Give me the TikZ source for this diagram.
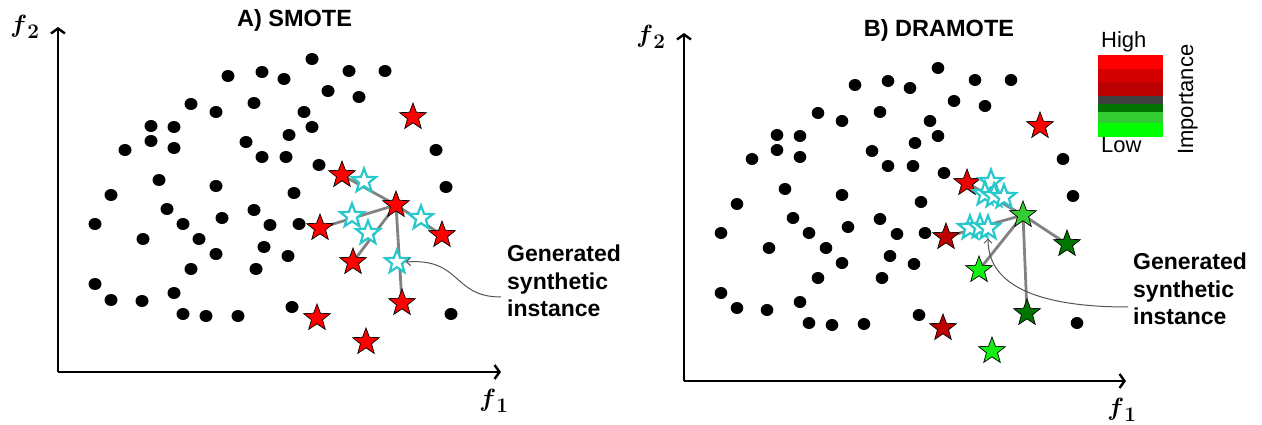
\documentclass[tikz,border=0pt]{standalone}
\usepackage{amsmath}
\usepackage[no-math]{fontspec}
\setmainfont{Liberation Sans}
\usetikzlibrary{shapes.geometric,arrows.meta}
\pgfdeclarelayer{bg}
\pgfsetlayers{bg,main}
\definecolor{sred}{RGB}{255,0,0}
\definecolor{sredb}{RGB}{236,0,0}
\definecolor{sdred}{RGB}{190,0,0}
\definecolor{smgreen}{RGB}{51,204,51}
\definecolor{sdgreen}{RGB}{0,118,0}
\definecolor{sbgreen}{RGB}{20,240,20}
\definecolor{scyan}{RGB}{40,200,205}
\definecolor{linkgray}{RGB}{130,130,130}
\definecolor{annotgray}{RGB}{85,85,85}
\definecolor{band1}{RGB}{255,0,0}
\definecolor{band2}{RGB}{212,0,0}
\definecolor{band3}{RGB}{186,0,0}
\definecolor{band4}{RGB}{64,64,64}
\definecolor{band5}{RGB}{0,115,0}
\definecolor{band6}{RGB}{51,204,51}
\definecolor{band7}{RGB}{0,255,0}
\begin{document}
\begin{tikzpicture}[x=1pt,y=-1pt,
  pstar/.style={shape=star, star points=5, star point ratio=2.4, minimum size=28pt, inner sep=0pt, draw=black, line width=0.7pt},
  redS/.style={pstar, fill=sred},
  redbS/.style={pstar, fill=sredb},
  dredS/.style={pstar, fill=sdred},
  mgreenS/.style={pstar, fill=smgreen},
  dgreenS/.style={pstar, fill=sdgreen},
  bgreenS/.style={pstar, fill=sbgreen},
  cyanS/.style={pstar, draw=scyan, fill=white, line width=2.2pt, minimum size=25pt},
  link/.style={draw=linkgray, line width=2.8pt},
  annot/.style={draw=annotgray, line width=1pt, -{Straight Barb[length=4pt,width=8pt]}},
  axis/.style={draw=black, line width=2.6pt, -{Straight Barb[length=5pt,width=14pt,line width=2.4pt]}},
  title/.style={font=\fontsize{23.5}{28}\selectfont\bfseries, inner sep=0pt, anchor=base},
  note/.style={font=\fontsize{23}{27.5}\selectfont\bfseries, inner sep=0pt, align=left, anchor=west},
  flabel/.style={font=\fontsize{31}{34}\selectfont, inner sep=0pt},
  legtext/.style={font=\fontsize{22}{26}\selectfont, inner sep=0pt}
]
\useasboundingbox (0,0) rectangle (1262,425);

% ---------------- Panel A ----------------
\coordinate (ao) at (58,372);
\coordinate (ay) at (58,27);
\coordinate (ax) at (501,372);
\draw[axis] (ao) -- (ay);
\draw[axis] (ao) -- (ax);
\node[flabel] (af2) at (25,27) {$\boldsymbol{f}_{\mathbf{2}}$};
\node[flabel] (af1) at (494,401) {$\boldsymbol{f}_{\mathbf{1}}$};
\node[title] (atitle) at (294.5,27) {A) SMOTE};

\foreach \x/\y in {312/59,228/76,262/72,284/79,349/71,385/71,328/91,359/97,
  191/104,216/112,254/103,304/112,312/127,289/135,151/126,174/127,151/141,
  174/148,125/150,246/142,262/157,286/157,319/165,436/150,159/180,216/186,
  294/193,446/187,111/195,167/209,254/210,95/224,183/224,222/218,270/225,
  299/224,143/239,199/239,264/247,216/254,288/256,191/269,256/269,95/284,
  174/293,111/300,142/301,183/314,206/316,238/316,292/307,451/314}
  \fill (\x,\y) ellipse [x radius=6.5pt, y radius=6pt];

\node[redS] (lr0) at (396,205) {};
\node[redS] (lr1) at (342,175) {};
\node[redS] (lr2) at (320,228) {};
\node[redS] (lr3) at (353,262) {};
\node[redS] (lr4) at (442,235) {};
\node[redS] (lr5) at (402,303) {};
\node[redS] (lr6) at (413,117) {};
\node[redS] (lr7) at (317,318) {};
\node[redS] (lr8) at (366,342) {};

\begin{pgfonlayer}{bg}
  \foreach \t in {lr1,lr2,lr3,lr4,lr5}
    \draw[link] (lr0.center) -- (\t.center);
\end{pgfonlayer}

\node[cyanS] (lc1) at (364,181) {};
\node[cyanS] (lc2) at (352,216) {};
\node[cyanS] (lc3) at (368,233) {};
\node[cyanS] (lc4) at (421,218) {};
\node[cyanS] (lc5) at (397,262) {};

\node[note] (ltxt) at (507,281) {Generated\\synthetic\\instance};
\draw[annot] ([xshift=-6pt,yshift=-16pt]ltxt.west) .. controls (452,297) and (462,258) .. (lc5.east);

% ---------------- Panel B ----------------
\coordinate (bo) at (684,381);
\coordinate (by) at (684,33);
\coordinate (bx) at (1126,381);
\draw[axis] (bo) -- (by);
\draw[axis] (bo) -- (bx);
\node[flabel] (bf2) at (651,37) {$\boldsymbol{f}_{\mathbf{2}}$};
\node[flabel] (bf1) at (1122,410) {$\boldsymbol{f}_{\mathbf{1}}$};
\node[title] (btitle) at (939,37) {B) DRAMOTE};

\foreach \x/\y in {938/68,855/85,888/81,910/88,975/80,1011/80,954/101,985/106,
  818/113,842/121,880/112,930/121,938/136,915/143,777/135,800/136,777/150,
  800/157,752/159,872/151,888/166,913/166,944/173,1063/159,785/189,842/195,
  921/202,1073/196,737/204,793/218,880/219,721/233,809/233,848/227,897/234,
  925/233,769/248,826/248,890/256,842/263,914/264,818/278,882/278,721/293,
  800/302,737/308,767/310,809/323,832/325,864/324,919/315,1077/323}
  \fill (\x,\y) ellipse [x radius=6.3pt, y radius=6pt];

\node[mgreenS] (rg0) at (1023,215) {};
\node[redbS]   (rr1) at (967,183) {};
\node[dredS]   (rr2) at (946,237) {};
\node[bgreenS] (rg1) at (979,270) {};
\node[dgreenS] (rg2) at (1067,244) {};
\node[dgreenS] (rg3) at (1027,313) {};
\node[redS]    (rr0) at (1040,126) {};
\node[dredS]   (rr3) at (943,328) {};
\node[bgreenS] (rg4) at (992,351) {};

\begin{pgfonlayer}{bg}
  \foreach \t in {rr1,rr2,rg1,rg2,rg3}
    \draw[link] (rg0.center) -- (\t.center);
\end{pgfonlayer}

\node[cyanS] (rc1) at (991,182) {};
\node[cyanS] (rc2) at (985,194) {};
\node[cyanS] (rc3) at (994,196) {};
\node[cyanS] (rc4) at (1004,197) {};
\node[cyanS] (rc5) at (970,228) {};
\node[cyanS] (rc6) at (980,227) {};
\node[cyanS] (rc7) at (988,228) {};

\node[note] (rtxt) at (1133,289) {Generated\\synthetic\\instance};
\draw[annot] ([xshift=-5pt,yshift=-18pt]rtxt.west) .. controls (1048,307) and (988,290) .. ([yshift=-4pt]rc7.south);

% ---------------- Legend ----------------
\fill[band1] (1098,55) rectangle (1163,69);
\fill[band2] (1098,69) rectangle (1163,82);
\fill[band3] (1098,82) rectangle (1163,96);
\fill[band4] (1098,96) rectangle (1163,104);
\fill[band5] (1098,104) rectangle (1163,112);
\fill[band6] (1098,112) rectangle (1163,123);
\fill[band7] (1098,123) rectangle (1163,137);
\node[legtext, anchor=base west] (lhigh) at (1101,48) {High};
\node[legtext, anchor=base west] (llow) at (1101,153) {Low};
\node[legtext, rotate=90, anchor=base west] (limp) at (1193,155) {Importance};
\end{tikzpicture}
\end{document}
